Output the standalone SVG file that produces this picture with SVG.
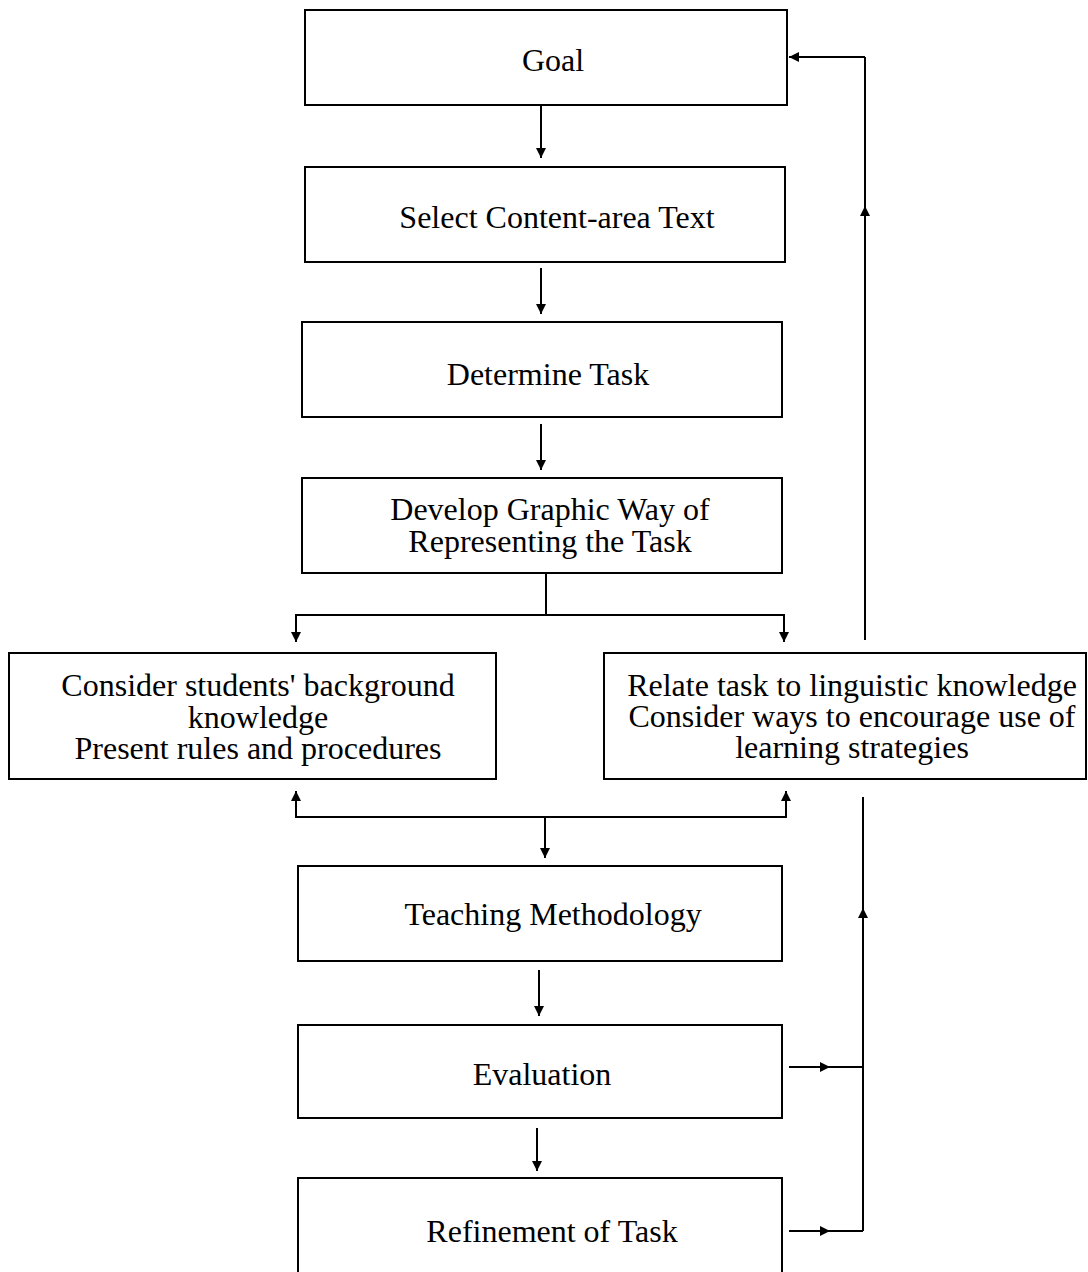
<svg xmlns="http://www.w3.org/2000/svg" width="1088" height="1272" viewBox="0 0 1088 1272">
<style>
  .box { fill: #fff; stroke: #000; stroke-width: 2; }
  .t { font-family: "Liberation Serif", "Times New Roman", serif; font-size: 32px; fill: #000; text-anchor: middle; }
  .c { fill: none; stroke: #000; stroke-width: 2; }
</style>
<defs>
  <marker id="ah" markerUnits="userSpaceOnUse" markerWidth="10" markerHeight="10" viewBox="0 0 10 10" refX="10" refY="5" orient="auto-start-reverse">
    <path d="M0,0 L10,5 L0,10 z" fill="#000"/>
  </marker>
  <marker id="am" markerUnits="userSpaceOnUse" markerWidth="10" markerHeight="10" viewBox="0 0 10 10" refX="6" refY="5" orient="auto">
    <path d="M0,0 L10,5 L0,10 z" fill="#000"/>
  </marker>
</defs>
<rect width="1088" height="1272" fill="#fff"/>

<g id="goal"><rect class="box" x="305" y="10" width="482" height="95"/><text class="t" x="553" y="71">Goal</text></g>
<g id="select"><rect class="box" x="305" y="167" width="480" height="95"/><text class="t" x="557" y="228">Select Content-area Text</text></g>
<g id="determine"><rect class="box" x="302" y="322" width="480" height="95"/><text class="t" x="548" y="385">Determine Task</text></g>
<g id="develop"><rect class="box" x="302" y="478" width="480" height="95"/><text class="t" x="550" y="520">Develop Graphic Way of</text><text class="t" x="550" y="552">Representing the Task</text></g>
<g id="students"><rect class="box" x="9" y="653" width="487" height="126"/><text class="t" x="258" y="696">Consider students' background</text><text class="t" x="258" y="728">knowledge</text><text class="t" x="258" y="759">Present rules and procedures</text></g>
<g id="linguistic"><rect class="box" x="604" y="653" width="482" height="126"/><text class="t" x="852" y="696">Relate task to linguistic knowledge</text><text class="t" x="852" y="727">Consider ways to encourage use of</text><text class="t" x="852" y="758">learning strategies</text></g>
<g id="teaching"><rect class="box" x="298" y="866" width="484" height="95"/><text class="t" x="553" y="925">Teaching Methodology</text></g>
<g id="evaluation"><rect class="box" x="298" y="1025" width="484" height="93"/><text class="t" x="542" y="1085">Evaluation</text></g>
<g id="refinement"><rect class="box" x="298" y="1178" width="484" height="100"/><text class="t" x="552" y="1242">Refinement of Task</text></g>

<g id="connectors">
  <line class="c" x1="541" y1="106" x2="541" y2="158" marker-end="url(#ah)"/>
  <line class="c" x1="541" y1="268" x2="541" y2="314" marker-end="url(#ah)"/>
  <line class="c" x1="541" y1="424" x2="541" y2="470" marker-end="url(#ah)"/>
  <polyline class="c" points="546,574 546,615"/>
  <polyline class="c" points="296,642 296,615 784,615 784,642" marker-start="url(#ah)" marker-end="url(#ah)"/>
  <polyline class="c" points="296,791 296,817 786,817 786,791" marker-start="url(#ah)" marker-end="url(#ah)"/>
  <line class="c" x1="545" y1="817" x2="545" y2="858" marker-end="url(#ah)"/>
  <line class="c" x1="539" y1="970" x2="539" y2="1016" marker-end="url(#ah)"/>
  <line class="c" x1="537" y1="1128" x2="537" y2="1171" marker-end="url(#ah)"/>
  <polyline class="c" points="789,1067 826,1067 863,1067" marker-mid="url(#am)"/>
  <polyline class="c" points="789,1231 826,1231 863,1231" marker-mid="url(#am)"/>
  <polyline class="c" points="863,1231 863,912 863,797" marker-mid="url(#am)"/>
  <polyline class="c" points="865,640 865,210 865,57" marker-mid="url(#am)"/>
  <line class="c" x1="865" y1="57" x2="789" y2="57" marker-end="url(#ah)"/>
</g>
</svg>
